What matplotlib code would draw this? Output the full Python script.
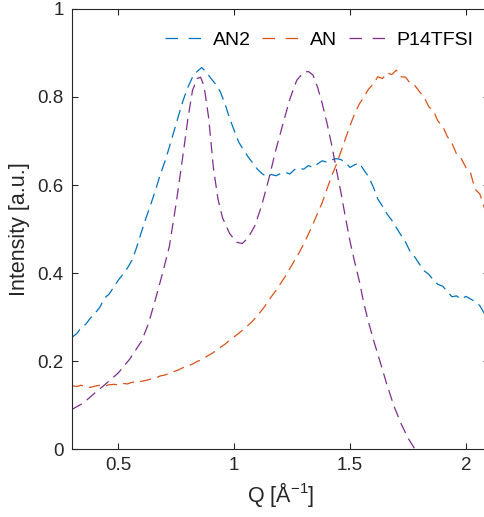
import matplotlib
matplotlib.use('Agg')
import matplotlib.pyplot as plt
from matplotlib.ticker import FormatStrFormatter

plt.rcParams['font.family'] = ['Liberation Sans', 'DejaVu Sans']
plt.rcParams['mathtext.default'] = 'regular'

# scattering curves
q_an2 = [0.30, 0.32, 0.34, 0.36, 0.38, 0.40, 0.42, 0.44, 0.46, 0.48,
         0.50, 0.52, 0.54, 0.56, 0.58, 0.60, 0.62, 0.64, 0.66, 0.68,
         0.70, 0.72, 0.74, 0.76, 0.78, 0.80, 0.82, 0.84, 0.86, 0.88,
         0.90, 0.92, 0.94, 0.96, 0.98, 1.00, 1.02, 1.04, 1.06, 1.08,
         1.10, 1.12, 1.14, 1.16, 1.18, 1.20, 1.22, 1.24, 1.26, 1.28,
         1.30, 1.32, 1.34, 1.36, 1.38, 1.40, 1.42, 1.44, 1.46, 1.48,
         1.50, 1.52, 1.54, 1.56, 1.58, 1.60, 1.62, 1.64, 1.66, 1.68,
         1.70, 1.72, 1.74, 1.76, 1.78, 1.80, 1.82, 1.84, 1.86, 1.88,
         1.90, 1.92, 1.94, 1.96, 1.98, 2.00, 2.02, 2.04, 2.06, 2.08, 2.10]
i_an2 = [0.254, 0.262, 0.276, 0.284, 0.298, 0.309, 0.322, 0.343, 0.352, 0.368,
         0.384, 0.397, 0.412, 0.430, 0.460, 0.494, 0.526, 0.556, 0.588, 0.622,
         0.652, 0.686, 0.722, 0.758, 0.793, 0.822, 0.845, 0.858, 0.867, 0.856,
         0.842, 0.829, 0.812, 0.785, 0.752, 0.724, 0.697, 0.680, 0.664, 0.650,
         0.636, 0.626, 0.619, 0.624, 0.621, 0.626, 0.629, 0.625, 0.635, 0.638,
         0.636, 0.644, 0.640, 0.648, 0.655, 0.652, 0.657, 0.660, 0.658, 0.651,
         0.640, 0.646, 0.650, 0.634, 0.619, 0.596, 0.568, 0.552, 0.534, 0.520,
         0.503, 0.486, 0.470, 0.448, 0.436, 0.420, 0.405, 0.397, 0.384, 0.374,
         0.370, 0.358, 0.346, 0.348, 0.340, 0.347, 0.341, 0.335, 0.326, 0.308, 0.300]

q_an = q_an2
i_an = [0.144, 0.142, 0.145, 0.141, 0.140, 0.143, 0.145, 0.143, 0.146, 0.147,
        0.146, 0.149, 0.148, 0.152, 0.151, 0.154, 0.156, 0.159, 0.161, 0.166,
        0.168, 0.172, 0.176, 0.180, 0.185, 0.189, 0.193, 0.199, 0.203, 0.210,
        0.216, 0.223, 0.231, 0.238, 0.247, 0.255, 0.263, 0.272, 0.281, 0.291,
        0.303, 0.316, 0.330, 0.346, 0.360, 0.376, 0.392, 0.410, 0.428, 0.446,
        0.466, 0.488, 0.511, 0.536, 0.560, 0.590, 0.620, 0.645, 0.675, 0.705,
        0.735, 0.762, 0.784, 0.800, 0.818, 0.829, 0.846, 0.842, 0.855, 0.851,
        0.861, 0.846, 0.845, 0.831, 0.826, 0.812, 0.799, 0.778, 0.768, 0.745,
        0.734, 0.710, 0.695, 0.670, 0.660, 0.640, 0.628, 0.590, 0.580, 0.548, 0.532]

q_p14 = [0.30, 0.35, 0.40, 0.45, 0.50, 0.55, 0.60, 0.63, 0.66, 0.69,
         0.72, 0.75, 0.78, 0.80, 0.82, 0.84, 0.855, 0.87, 0.89, 0.91,
         0.93, 0.95, 0.98, 1.01, 1.035, 1.06, 1.09, 1.12, 1.15, 1.18,
         1.21, 1.24, 1.27, 1.30, 1.32, 1.34, 1.36, 1.38, 1.40, 1.42,
         1.44, 1.46, 1.48, 1.50, 1.52, 1.54, 1.56, 1.58, 1.60, 1.63,
         1.66, 1.69, 1.72, 1.75, 1.78, 1.80]
i_p14 = [0.090, 0.105, 0.128, 0.150, 0.173, 0.205, 0.245, 0.285, 0.340, 0.398,
         0.460, 0.560, 0.672, 0.750, 0.815, 0.842, 0.845, 0.825, 0.752, 0.640,
         0.568, 0.525, 0.490, 0.470, 0.467, 0.480, 0.508, 0.556, 0.615, 0.680,
         0.738, 0.795, 0.838, 0.856, 0.858, 0.850, 0.822, 0.785, 0.742, 0.693,
         0.638, 0.585, 0.527, 0.472, 0.425, 0.382, 0.330, 0.288, 0.250, 0.198,
         0.145, 0.097, 0.058, 0.025, 0.000, -0.018]

series = [('AN2', q_an2, i_an2, '#0072BD'),
          ('AN', q_an, i_an, '#D95319'),
          ('P14TFSI', q_p14, i_p14, '#7E2F8E')]

x_ticks = [0.5, 1, 1.5, 2]
y_ticks = [0, 0.2, 0.4, 0.6, 0.8, 1]

fig = plt.figure(figsize=(4.85, 5.17), dpi=100)
ax = fig.add_axes([0.1485, 0.1315, 0.8598, 0.8511])

for name, q, inten, col in series:
    ax.plot(q, inten, color=col, lw=0.9, dashes=(9, 5), label=name)

ax.set_xlim(0.3, 2.1)
ax.set_ylim(0, 1)
ax.set_xticks(x_ticks)
ax.set_yticks(y_ticks)
ax.xaxis.set_major_formatter(FormatStrFormatter('%g'))
ax.yaxis.set_major_formatter(FormatStrFormatter('%g'))

dark = '#262626'
for s in ax.spines.values():
    s.set_color(dark)
    s.set_linewidth(0.8)
ax.tick_params(direction='in', top=True, right=True, length=4, width=0.8,
               colors=dark, labelsize=13.5, pad=6)

ax.set_xlabel('Q [Å$^{-1}$]', fontsize=15.5, color=dark, labelpad=4)
ax.set_ylabel('Intensity [a.u.]', fontsize=15.5, color=dark, labelpad=5)

leg = ax.legend(loc='center left', bbox_to_anchor=(0.223, 0.93), ncol=3, frameon=False,
                fontsize=14, handlelength=1.95, columnspacing=0.6, handletextpad=0.5,
                borderpad=0, borderaxespad=0)
for ln in leg.get_lines():
    ln.set_dashes((10, 8.5))

plt.savefig('out.png', dpi=100)
